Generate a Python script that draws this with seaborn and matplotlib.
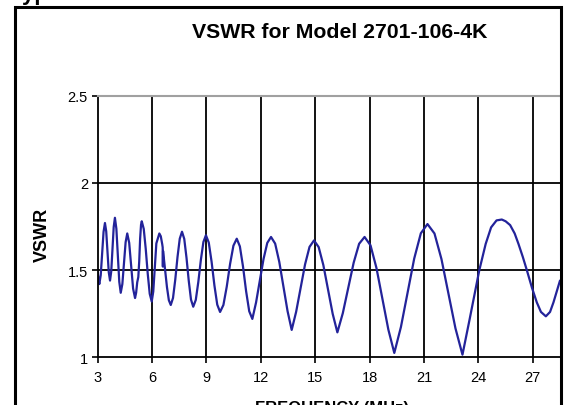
import numpy as np
import pandas as pd
import matplotlib
matplotlib.use("Agg")
import matplotlib.pyplot as plt
import matplotlib.patches as mpatches
import seaborn as sns

# ---- data (MHz, VSWR) ----
freq_mhz = [
    3.00, 3.05, 3.09,
    3.1675, 3.245, 3.3225, 3.40,
    3.47, 3.54, 3.61, 3.68,
    3.7475, 3.815, 3.8825, 3.95,
    4.03, 4.11, 4.19, 4.27,
    4.36, 4.45, 4.54, 4.63,
    4.7375, 4.845, 4.9525, 5.06,
    5.12, 5.18, 5.24, 5.29, 5.34, 5.39, 5.43,
    5.54, 5.65, 5.76, 5.87, 5.98,
    6.065, 6.15, 6.235, 6.40,
    6.48, 6.56, 6.585, 6.595, 6.605, 6.715, 6.82, 6.925, 7.03,
    7.154, 7.278, 7.402, 7.526, 7.65,
    7.774, 7.898, 8.022, 8.146, 8.27,
    8.41, 8.55, 8.69, 8.83, 8.97,
    9.126, 9.282, 9.438, 9.594, 9.75,
    9.934, 10.118, 10.302, 10.486, 10.67,
    10.842, 11.014, 11.186, 11.358, 11.53,
    11.736, 11.942, 12.148, 12.354, 12.56,
    12.788, 13.016, 13.244, 13.472, 13.70,
    13.946, 14.192, 14.438, 14.684, 14.93,
    15.188, 15.446, 15.704, 15.962, 16.22,
    16.52, 16.82, 17.12, 17.42, 17.72,
    18.048, 18.376, 18.704, 19.032, 19.36,
    19.726, 20.092, 20.458, 20.824, 21.19,
    21.576, 21.962, 22.348, 22.734, 23.12,
    23.5, 24.05, 24.4, 24.7, 25.0, 25.29,
    25.5, 25.75, 26.0, 26.21, 26.45, 26.67, 26.95, 27.22, 27.45, 27.72,
    27.95, 28.14, 28.3, 28.5,
]
vswr = [
    1.49, 1.44, 1.42,
    1.471, 1.595, 1.719, 1.77,
    1.722, 1.605, 1.488, 1.44,
    1.493, 1.62, 1.747, 1.80,
    1.737, 1.585, 1.433, 1.37,
    1.42, 1.54, 1.66, 1.71,
    1.656, 1.525, 1.394, 1.34,
    1.37, 1.43, 1.46, 1.55, 1.68, 1.76, 1.78,
    1.736, 1.621, 1.479, 1.364, 1.32,
    1.377, 1.515, 1.653, 1.71,
    1.694, 1.648, 1.63, 1.52, 1.61, 1.505, 1.4025, 1.327, 1.30,
    1.340, 1.445, 1.575, 1.680, 1.72,
    1.679, 1.571, 1.439, 1.331, 1.29,
    1.329, 1.432, 1.558, 1.661, 1.70,
    1.658, 1.548, 1.412, 1.302, 1.26,
    1.300, 1.405, 1.535, 1.640, 1.68,
    1.636, 1.521, 1.379, 1.264, 1.22,
    1.315, 1.439, 1.564, 1.656, 1.69,
    1.652, 1.547, 1.406, 1.265, 1.157,
    1.261, 1.397, 1.533, 1.633, 1.67,
    1.632, 1.529, 1.389, 1.249, 1.143,
    1.253, 1.398, 1.543, 1.651, 1.69,
    1.642, 1.512, 1.336, 1.159, 1.025,
    1.174, 1.370, 1.566, 1.711, 1.764,
    1.710, 1.563, 1.365, 1.166, 1.015,
    1.21, 1.50, 1.65, 1.745, 1.785, 1.79,
    1.78, 1.758, 1.71, 1.65, 1.575, 1.50, 1.40, 1.315, 1.26, 1.235,
    1.26, 1.315, 1.37, 1.44,
]
x_ticks = [3, 6, 9, 12, 15, 18, 21, 24, 27]
y_ticks = [1, 1.5, 2, 2.5]
y_tick_labels = ["1", "1.5", "2", "2.5"]

title = "VSWR for Model 2701-106-4K"
heading = "Typical VSWR"
x_label = "FREQUENCY (MHz)"
y_label = "VSWR"

df = pd.DataFrame({"freq": freq_mhz, "vswr": vswr})

sns.set_theme(style="white")
plt.rcParams["font.family"] = ["Liberation Sans", "DejaVu Sans"]

W, H = 565, 406
fig = plt.figure(figsize=(W / 100, H / 100), dpi=100)
fig.patch.set_facecolor("white")

left, right, top, bottom = 97.7, 560.0, 96.7, 358.3
ax = fig.add_axes([left / W, 1 - bottom / H, (right - left) / W, (bottom - top) / H])
ax.set_facecolor("white")

sns.lineplot(data=df, x="freq", y="vswr", ax=ax, estimator=None, sort=False,
             color="#23239a", linewidth=1.6)

ax.set_xlim(3, 28.5)
ax.set_ylim(1, 2.5)
ax.set_xticks(x_ticks)
ax.set_xticklabels([str(t) for t in x_ticks])
ax.set_yticks(y_ticks)
ax.set_yticklabels(y_tick_labels)

# gridlines (black) at tick values
for t in x_ticks[1:]:
    ax.axvline(t, color="black", linewidth=1.3, zorder=0)
for t in y_ticks[1:3]:
    ax.axhline(t, color="black", linewidth=1.3, zorder=0)

for s in ["left", "bottom"]:
    ax.spines[s].set_color("black")
    ax.spines[s].set_linewidth(1.3)
ax.spines["top"].set_color("#a0a0a0")
ax.spines["top"].set_linewidth(1.5)
ax.spines["right"].set_visible(False)

ax.tick_params(axis="both", which="both", direction="out", length=4, width=1.2,
               color="black", labelsize=10.5, labelcolor="black",
               bottom=True, left=True)
ax.tick_params(axis="x", pad=5)
ax.tick_params(axis="y", pad=3)
ax.set_xlabel("")
ax.set_ylabel("")

fig.text(42 / W, 1 - 235 / H, y_label, rotation=90, ha="center", va="center",
         fontsize=13, fontweight="bold", color="black")
fig.text(340 / W, 1 - 32 / H, title, ha="center", va="center",
         fontsize=15.3, fontweight="bold", color="black")
fig.text(332 / W, 1 - 401 / H, x_label, ha="center", va="top",
         fontsize=12, fontweight="bold", color="black")
fig.text(10 / W, 1 - 0.3 / H, heading, ha="left", va="baseline",
         fontsize=16, fontweight="bold", color="black")

# outer chart frame (clipped at bottom)
frame = mpatches.Rectangle((15 / W, -0.1), (561 - 15) / W, (1 - 8 / H) + 0.1,
                           transform=fig.transFigure, fill=False,
                           edgecolor="black", linewidth=2.2, clip_on=False)
fig.patches.append(frame)

fig.savefig("out.png", dpi=100)
